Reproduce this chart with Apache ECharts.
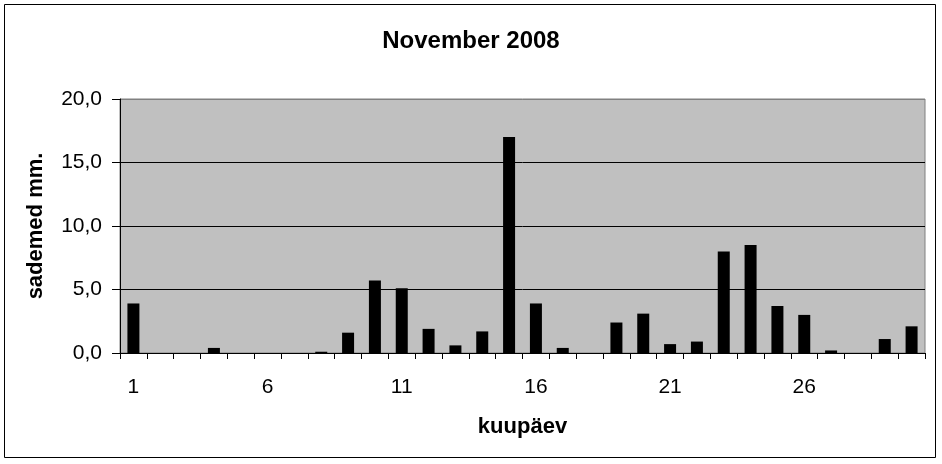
<!DOCTYPE html>
<html>
<head>
<meta charset="utf-8">
<script src="https://cdn.jsdelivr.net/npm/echarts@6/dist/echarts.min.js"></script>
<style>html,body{margin:0;padding:0;background:#fff;}#c{width:942px;height:464px;}</style>
</head>
<body>
<div id="c"></div>
<script>
const days = ['1','2','3','4','5','6','7','8','9','10','11','12','13','14','15','16','17','18','19','20','21','22','23','24','25','26','27','28','29','30'];
const rainfall = [3.9,0,0,0.4,0,0,0,0.1,1.6,5.7,5.1,1.9,0.6,1.7,17.0,3.9,0.4,0,2.4,3.1,0.7,0.9,8.0,8.5,3.7,3.0,0.2,0,1.1,2.1];
const titleText = 'November 2008';
const yName = 'sademed mm.';
const xName = 'kuupäev';

const chart = echarts.init(document.getElementById('c'), null, {renderer:'canvas'});
const font = 'Liberation Sans, Arial, sans-serif';
chart.setOption({
  animation:false,
  title:{text:titleText,left:'center',top:24,textStyle:{fontFamily:font,fontSize:24,fontWeight:'bold',color:'#000'}},
  graphic:[{type:'rect',shape:{x:4.5,y:4.5,width:931,height:453},style:{fill:'none',stroke:'#000',lineWidth:1},z:-1}],
  grid:{left:120,right:17,top:99,bottom:111,show:true,backgroundColor:'#c0c0c0',borderColor:'#808080',borderWidth:1},
  xAxis:{type:'category',data:days,name:xName,nameLocation:'middle',nameGap:63,
    nameTextStyle:{fontFamily:font,fontSize:22,fontWeight:'bold',color:'#000'},
    axisLine:{lineStyle:{color:'#000',width:1}},
    axisTick:{show:true,interval:0,length:6,lineStyle:{color:'#000'}},
    axisLabel:{interval:4,margin:24,fontFamily:font,fontSize:21,color:'#000'}},
  yAxis:{type:'value',min:0,max:20,interval:5,name:yName,nameLocation:'middle',nameGap:73,
    nameTextStyle:{fontFamily:font,fontSize:22,fontWeight:'bold',color:'#000'},
    axisLine:{show:true,lineStyle:{color:'#000',width:1}},
    axisTick:{show:true,length:8,lineStyle:{color:'#000'}},
    splitLine:{show:true,lineStyle:{color:['#000','#000','#000','#000','#808080'],width:1}},
    axisLabel:{margin:18,fontFamily:font,fontSize:21,color:'#000',formatter:v=>v.toFixed(1).replace('.',',')}},
  series:[{type:'bar',data:rainfall,barWidth:12,itemStyle:{color:'#000'}}]
});
</script>
</body>
</html>
